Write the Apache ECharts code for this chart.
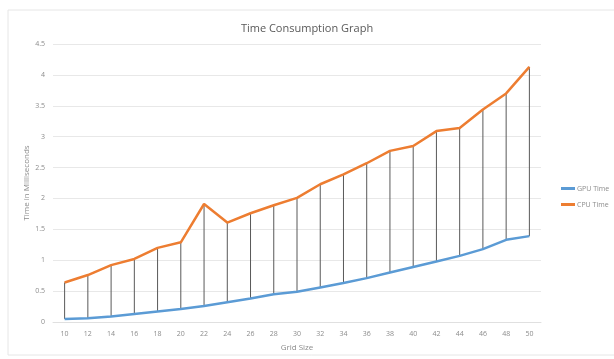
<!DOCTYPE html>
<html>
<head>
<meta charset="utf-8">
<script src="https://cdn.jsdelivr.net/npm/echarts@6/dist/echarts.min.js"></script>
<style>
  html, body { margin: 0; padding: 0; background: #fff; }
  #chart { width: 614px; height: 359px; }
</style>
</head>
<body>
<div id="chart"></div>
<script>
// Grid sizes on the category axis
const gridSizes = ['10','12','14','16','18','20','22','24','26','28','30','32','34','36','38','40','42','44','46','48','50'];

// Measured times in milliseconds
const gpuTime = [0.05,0.06,0.09,0.13,0.17,0.21,0.26,0.32,0.38,0.45,0.49,0.56,0.63,0.71,0.80,0.89,0.98,1.07,1.18,1.33,1.39];
const cpuTime = [0.64,0.76,0.92,1.02,1.20,1.29,1.91,1.61,1.76,1.89,2.01,2.23,2.39,2.57,2.77,2.85,3.09,3.14,3.44,3.70,4.13];

// Value axis ticks
const yTicks = [0, 0.5, 1, 1.5, 2, 2.5, 3, 3.5, 4, 4.5];

const dropData = gridSizes.map((g, i) => [i, gpuTime[i], cpuTime[i]]);

const chart = echarts.init(document.getElementById('chart'));
chart.setOption({
  backgroundColor: '#ffffff',
  animation: false,
  title: {
    text: 'Time Consumption Graph',
    left: 'center',
    top: 18,
    textStyle: { fontFamily: 'Open Sans', fontSize: 11, fontWeight: 'normal', color: '#595959' }
  },
  graphic: [{
    type: 'rect',
    shape: { x: 8, y: 10, width: 620, height: 345 },
    style: { fill: 'none', stroke: '#e6e6e6', lineWidth: 1 },
    silent: true
  }],
  legend: {
    orient: 'vertical',
    left: 561,
    top: 185,
    padding: 0,
    itemWidth: 14,
    itemHeight: 3,
    itemGap: 9,
    icon: 'rect',
    textStyle: { fontFamily: 'Open Sans', fontSize: 7, color: '#8c8c8c', padding: [0, 0, 0, -3] },
    data: ['GPU Time', 'CPU Time']
  },
  grid: { left: 53, right: 73, top: 44, bottom: 37 },
  xAxis: {
    type: 'category',
    data: gridSizes,
    boundaryGap: true,
    name: 'Grid Size',
    nameLocation: 'middle',
    nameGap: 22,
    nameTextStyle: { fontFamily: 'Open Sans', fontSize: 8, color: '#8c8c8c' },
    axisLine: { lineStyle: { color: '#e0e0e0' } },
    axisTick: { show: false },
    axisLabel: { fontFamily: 'Open Sans', fontSize: 7, color: '#8c8c8c', margin: 8 }
  },
  yAxis: {
    type: 'value',
    min: 0,
    max: 4.5,
    interval: 0.5,
    name: 'Time in Milliseconds',
    nameLocation: 'middle',
    nameGap: 22,
    nameMoveOverlap: false,
    nameTextStyle: { fontFamily: 'Open Sans', fontSize: 8, color: '#8c8c8c' },
    axisLine: { show: false },
    axisTick: { show: false },
    splitLine: { lineStyle: { color: '#e8e8e8' } },
    axisLabel: {
      fontFamily: 'Open Sans', fontSize: 7, color: '#8c8c8c', margin: 8,
      formatter: v => yTicks.includes(v) ? String(v) : ''
    }
  },
  series: [
    {
      name: 'drop lines',
      type: 'custom',
      data: dropData,
      z: 1,
      silent: true,
      renderItem: (params, api) => {
        const p1 = api.coord([api.value(0), api.value(1)]);
        const p2 = api.coord([api.value(0), api.value(2)]);
        return {
          type: 'line',
          shape: { x1: p1[0], y1: p1[1], x2: p2[0], y2: p2[1] },
          style: { stroke: '#595959', lineWidth: 1 }
        };
      }
    },
    {
      name: 'GPU Time',
      type: 'line',
      data: gpuTime,
      symbol: 'none',
      z: 3,
      color: '#5B9BD5',
      lineStyle: { width: 2.5, color: '#5B9BD5' }
    },
    {
      name: 'CPU Time',
      type: 'line',
      data: cpuTime,
      symbol: 'none',
      z: 3,
      color: '#ED7D31',
      lineStyle: { width: 2.5, color: '#ED7D31' }
    }
  ]
});
</script>
</body>
</html>
